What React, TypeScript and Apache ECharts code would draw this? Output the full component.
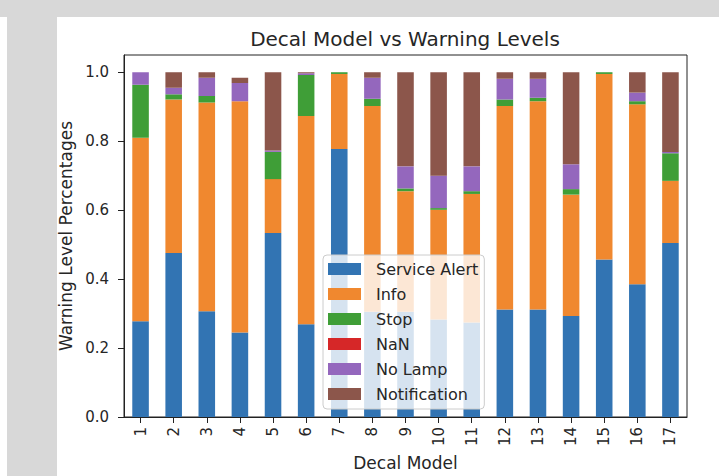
import React, { useEffect, useRef } from "react";
import * as echarts from "echarts";

const categories = ["1", "2", "3", "4", "5", "6", "7", "8", "9", "10", "11", "12", "13", "14", "15", "16", "17"];
const seriesNames = ["Service Alert", "Info", "Stop", "NaN", "No Lamp", "Notification"];
const serviceAlert = [0.278, 0.476, 0.307, 0.245, 0.534, 0.269, 0.777, 0.305, 0.305, 0.283, 0.274, 0.312, 0.312, 0.293, 0.457, 0.385, 0.505];
const info = [0.532, 0.445, 0.605, 0.671, 0.156, 0.604, 0.218, 0.597, 0.35, 0.318, 0.373, 0.59, 0.604, 0.352, 0.538, 0.522, 0.18];
const stop = [0.154, 0.015, 0.019, 0, 0.079, 0.119, 0.005, 0.021, 0.008, 0.005, 0.008, 0.019, 0.01, 0.016, 0.005, 0.009, 0.08];
const nanValues = [0, 0, 0, 0, 0, 0, 0, 0, 0, 0, 0, 0, 0, 0, 0, 0, 0];
const noLamp = [0.036, 0.019, 0.053, 0.053, 0.004, 0.005, 0, 0.061, 0.064, 0.094, 0.072, 0.06, 0.055, 0.072, 0, 0.025, 0.004];
const notification = [0, 0.045, 0.016, 0.015, 0.227, 0.003, 0, 0.016, 0.273, 0.3, 0.273, 0.019, 0.019, 0.267, 0, 0.059, 0.231];
const yTicks = [0, 0.2, 0.4, 0.6, 0.8, 1.0];

const colors = ["#3274b3", "#f0882f", "#3f9e37", "#d62728", "#9467bd", "#8c564b"];
const FONT = "DejaVu Sans";
const TXT = "#262626";

export default function App() {
  const ref = useRef<HTMLDivElement>(null);
  useEffect(() => {
    if (!ref.current) return;
    const chart = echarts.init(ref.current, undefined, { renderer: "svg" });
    const values = [serviceAlert, info, stop, nanValues, noLamp, notification];
    chart.setOption({
      animation: false,
      backgroundColor: "#ffffff",
      textStyle: { fontFamily: FONT },
      graphic: [
        { type: "rect", shape: { x: 0, y: 0, width: 719, height: 17 }, style: { fill: "#d8d8d8" }, silent: true, z: -10 },
        { type: "rect", shape: { x: 7, y: 17, width: 50, height: 459 }, style: { fill: "#d8d8d8" }, silent: true, z: -10 },
      ],
      title: {
        text: "Decal Model vs Warning Levels",
        left: 405,
        top: 29,
        textAlign: "center",
        padding: 0,
        textStyle: { fontFamily: FONT, fontSize: 20, fontWeight: "normal", color: TXT },
      },
      legend: {
        orient: "vertical",
        left: 323,
        top: 255,
        padding: [5, 6, 6, 5],
        itemWidth: 33,
        itemHeight: 12,
        itemGap: 7,
        icon: "rect",
        backgroundColor: "rgba(255,255,255,0.8)",
        borderColor: "#cccccc",
        borderWidth: 1,
        borderRadius: 4,
        data: seriesNames,
        textStyle: { fontFamily: FONT, fontSize: 16, lineHeight: 18, color: TXT, padding: [0, 0, 0, 10] },
        z: 10,
      },
      grid: {
        left: 124,
        top: 55,
        width: 563,
        height: 364,
        show: true,
        borderColor: "#222",
        borderWidth: 1,
        backgroundColor: "transparent",
      },
      xAxis: {
        type: "category",
        data: categories,
        name: "Decal Model",
        nameLocation: "middle",
        nameGap: 36,
        nameTextStyle: { fontFamily: FONT, fontSize: 17, color: TXT },
        axisLine: { show: true, lineStyle: { color: "#222", width: 1 } },
        axisTick: { show: true, alignWithLabel: true, interval: 0, length: 6, lineStyle: { color: "#222" } },
        axisLabel: { rotate: 90, interval: 0, margin: 10, fontSize: 15, fontFamily: FONT, color: TXT },
        splitLine: { show: false },
      },
      yAxis: {
        type: "value",
        min: 0,
        max: 1.05,
        interval: 0.2,
        name: "Warning Level Percentages",
        nameLocation: "middle",
        nameGap: 46,
        nameTextStyle: { fontFamily: FONT, fontSize: 17, color: TXT },
        axisLine: { show: true, lineStyle: { color: "#222", width: 1 } },
        axisTick: { show: true, length: 6, lineStyle: { color: "#222" }, customValues: yTicks },
        axisLabel: {
          fontSize: 15,
          fontFamily: FONT,
          color: TXT,
          margin: 15,
          customValues: yTicks,
          formatter: (v: number) => v.toFixed(1),
        },
        splitLine: { show: false },
      },
      series: seriesNames.map((name, i) => ({
        name,
        type: "bar",
        stack: "total",
        barWidth: "50%",
        data: values[i],
        itemStyle: { color: colors[i] },
      })),
    });
    return () => chart.dispose();
  }, []);
  return (
    <div style={{ position: "fixed", left: 0, top: 0, width: 719, height: 476, background: "#fff" }}>
      <div ref={ref} style={{ width: 719, height: 476 }} />
    </div>
  );
}
